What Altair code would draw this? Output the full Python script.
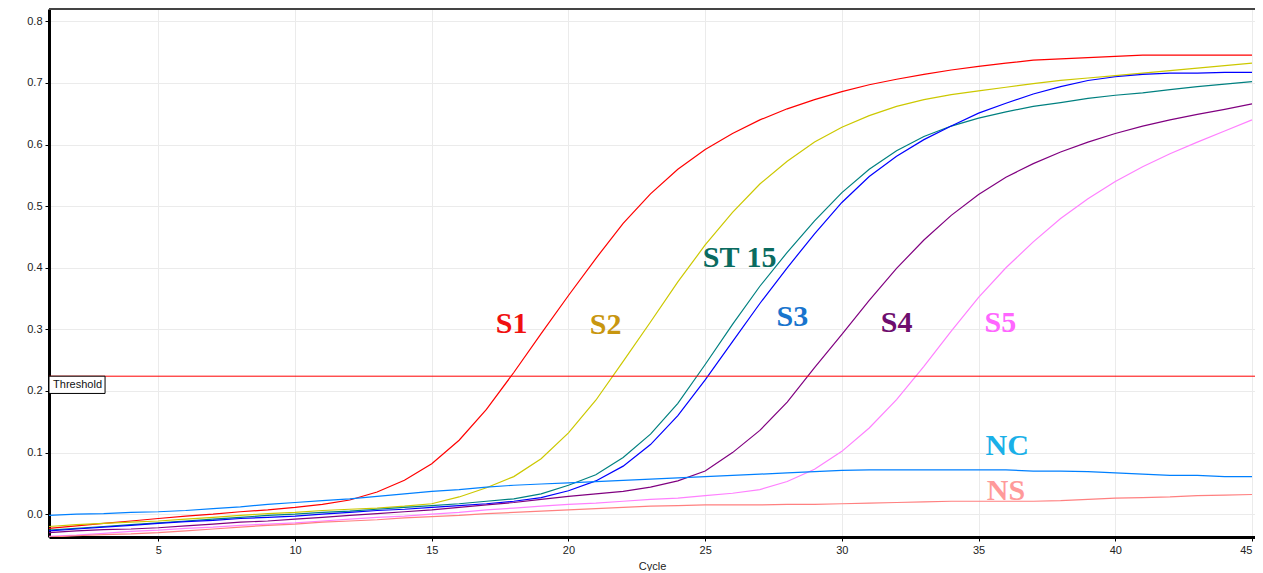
import altair as alt
import pandas as pd

cycles = list(range(1, 46))

s1 = [-0.023, -0.019, -0.015, -0.011, -0.007, -0.003, 0.000, 0.004, 0.007, 0.011,
      0.016, 0.023, 0.036, 0.055, 0.082, 0.120, 0.170, 0.230, 0.293, 0.355,
      0.415, 0.472, 0.520, 0.560, 0.592, 0.618, 0.640, 0.658, 0.673, 0.686,
      0.697, 0.706, 0.714, 0.721, 0.727, 0.732, 0.737, 0.739, 0.741, 0.743,
      0.745, 0.745, 0.745, 0.745, 0.745]
s2 = [-0.020, -0.017, -0.015, -0.013, -0.011, -0.008, -0.005, -0.002, 0.001, 0.003,
      0.006, 0.008, 0.010, 0.013, 0.017, 0.028, 0.043, 0.061, 0.090, 0.132,
      0.185, 0.248, 0.312, 0.377, 0.437, 0.490, 0.536, 0.573, 0.604, 0.628,
      0.647, 0.662, 0.673, 0.681, 0.687, 0.693, 0.699, 0.704, 0.708, 0.712,
      0.716, 0.720, 0.724, 0.728, 0.732]
st15 = [-0.026, -0.023, -0.020, -0.017, -0.014, -0.011, -0.008, -0.005, -0.002, 0.000,
        0.003, 0.005, 0.008, 0.011, 0.014, 0.017, 0.021, 0.025, 0.033, 0.047,
        0.064, 0.092, 0.130, 0.180, 0.243, 0.308, 0.370, 0.425, 0.476, 0.522,
        0.560, 0.590, 0.613, 0.630, 0.643, 0.653, 0.662, 0.668, 0.675, 0.680,
        0.684, 0.689, 0.694, 0.698, 0.702]
s3 = [-0.027, -0.024, -0.021, -0.018, -0.015, -0.012, -0.010, -0.007, -0.005, -0.003,
      0.000, 0.003, 0.006, 0.008, 0.011, 0.014, 0.017, 0.021, 0.027, 0.038,
      0.054, 0.078, 0.113, 0.160, 0.218, 0.280, 0.342, 0.400, 0.455, 0.506,
      0.548, 0.581, 0.608, 0.630, 0.651, 0.667, 0.682, 0.694, 0.704, 0.710,
      0.714, 0.716, 0.716, 0.717, 0.717]
s4 = [-0.030, -0.027, -0.025, -0.024, -0.022, -0.019, -0.016, -0.013, -0.011, -0.008,
      -0.005, -0.002, 0.001, 0.004, 0.007, 0.011, 0.015, 0.019, 0.024, 0.029,
      0.033, 0.037, 0.044, 0.054, 0.070, 0.100, 0.136, 0.182, 0.238, 0.292,
      0.347, 0.399, 0.445, 0.485, 0.519, 0.547, 0.569, 0.588, 0.604, 0.618,
      0.630, 0.640, 0.649, 0.657, 0.666]
s5 = [-0.036, -0.034, -0.031, -0.028, -0.026, -0.023, -0.021, -0.018, -0.016, -0.014,
      -0.011, -0.008, -0.005, -0.003, 0.000, 0.003, 0.007, 0.010, 0.013, 0.016,
      0.018, 0.021, 0.024, 0.026, 0.030, 0.034, 0.040, 0.053, 0.073, 0.102,
      0.140, 0.186, 0.240, 0.297, 0.352, 0.400, 0.442, 0.480, 0.512, 0.540,
      0.564, 0.585, 0.604, 0.622, 0.640]
nc = [-0.002, 0.000, 0.001, 0.003, 0.004, 0.006, 0.009, 0.012, 0.016, 0.019,
      0.022, 0.025, 0.029, 0.033, 0.037, 0.040, 0.044, 0.047, 0.049, 0.051,
      0.053, 0.055, 0.057, 0.059, 0.061, 0.063, 0.065, 0.067, 0.069, 0.071,
      0.072, 0.072, 0.072, 0.072, 0.072, 0.072, 0.070, 0.070, 0.069, 0.067,
      0.065, 0.063, 0.063, 0.061, 0.061]
ns = [-0.037, -0.035, -0.033, -0.032, -0.030, -0.027, -0.024, -0.021, -0.018, -0.016,
      -0.013, -0.011, -0.009, -0.006, -0.004, -0.002, 0.001, 0.003, 0.005, 0.007,
      0.009, 0.011, 0.013, 0.014, 0.015, 0.015, 0.015, 0.016, 0.016, 0.017,
      0.018, 0.019, 0.020, 0.021, 0.021, 0.021, 0.021, 0.022, 0.024, 0.026,
      0.027, 0.028, 0.030, 0.031, 0.032]

series_names = ["S1", "S2", "ST 15", "S3", "S4", "S5", "NC", "NS"]
series_values = [s1, s2, st15, s3, s4, s5, nc, ns]
line_colors = ["#FF0000", "#CCC800", "#008080", "#0000FF", "#800080", "#FF80FF", "#0080FF", "#FF8080"]

label_text = ["S1", "S2", "ST 15", "S3", "S4", "S5", "NC", "NS"]
label_x = [17.92, 21.36, 26.26, 28.19, 32.0, 35.8, 36.05, 36.0]
label_y = [0.294, 0.292, 0.401, 0.305, 0.295, 0.295, 0.096, 0.023]
label_colors = ["#F01010", "#C8960F", "#0A6B60", "#1874CD", "#6E0D6E", "#FF66FF", "#1AB0E8", "#FF9A9A"]

threshold = 0.224
threshold_box_x = [1.0, 3.05]
threshold_box_y = [0.224, 0.196]
threshold_text_x = 1.15
threshold_text_y = 0.2095

x_ticks = [5, 10, 15, 20, 25, 30, 35, 40, 45]
y_ticks = [0.0, 0.1, 0.2, 0.3, 0.4, 0.5, 0.6, 0.7, 0.8]

rows = []
for name, vals in zip(series_names, series_values):
    for c, v in zip(cycles, vals):
        rows.append({"series": name, "cycle": c, "value": v})
df = pd.DataFrame(rows)

labels_df = pd.DataFrame({"text": label_text, "x": label_x, "y": label_y, "color": label_colors})
thr_df = pd.DataFrame({"t": [threshold]})
box_df = pd.DataFrame({"x": [threshold_box_x[0]], "x2": [threshold_box_x[1]],
                       "y": [threshold_box_y[0]], "y2": [threshold_box_y[1]]})
thr_text_df = pd.DataFrame({"x": [threshold_text_x], "y": [threshold_text_y], "text": ["Threshold"]})

W, H = 1206, 528
xs = alt.Scale(domain=[1, 45.11], nice=False, zero=False)
ys = alt.Scale(domain=[-0.037, 0.82], nice=False, zero=False)

xaxis = alt.Axis(values=x_ticks, title="Cycle", grid=True,
                 labelAlign=alt.condition("datum.value == 45", alt.value("right"), alt.value("center")))
yaxis = alt.Axis(values=y_ticks, format=".1f", title=None, grid=True)

lines = alt.Chart(df).mark_line(strokeWidth=1.2, clip=True).encode(
    x=alt.X("cycle:Q", scale=xs, axis=xaxis),
    y=alt.Y("value:Q", scale=ys, axis=yaxis),
    color=alt.Color("series:N", scale=alt.Scale(domain=series_names, range=line_colors), legend=None),
    order=alt.Order("cycle:Q"),
)

thr_rule = alt.Chart(thr_df).mark_rule(color="#FF0000", strokeWidth=1).encode(
    y=alt.Y("t:Q", scale=ys, axis=yaxis),
)

box = alt.Chart(box_df).mark_rect(fill="white", stroke="black", strokeWidth=1).encode(
    x=alt.X("x:Q", scale=xs, axis=xaxis), x2="x2:Q",
    y=alt.Y("y:Q", scale=ys, axis=yaxis), y2="y2:Q",
)

thr_text = alt.Chart(thr_text_df).mark_text(
    align="left", baseline="middle", font="Liberation Sans", fontSize=11, color="#111111"
).encode(
    x=alt.X("x:Q", scale=xs, axis=xaxis),
    y=alt.Y("y:Q", scale=ys, axis=yaxis),
    text="text:N",
)

labels = alt.Chart(labels_df).mark_text(
    align="center", baseline="alphabetic", font="Liberation Serif", fontWeight="bold", fontSize=30
).encode(
    x=alt.X("x:Q", scale=xs, axis=xaxis),
    y=alt.Y("y:Q", scale=ys, axis=yaxis),
    text="text:N",
    color=alt.Color("color:N", scale=None),
)

top_border = alt.Chart(thr_df).mark_rule(color="#444444", strokeWidth=2).encode(
    x=alt.value(0), x2=alt.value(W), y=alt.value(0)
)

chart = alt.layer(lines, thr_rule, box, thr_text, labels, top_border).properties(
    width=W, height=H,
    autosize=alt.AutoSizeParams(type="none"),
    padding={"left": 41, "top": 1, "right": 0, "bottom": 34},
).configure_view(stroke=None).configure_axis(
    labelFont="Liberation Sans", labelFontSize=11, labelColor="#222222",
    titleFont="Liberation Sans", titleFontSize=11, titleFontWeight="normal", titleColor="#222222",
    gridColor="#EBEBEB", gridWidth=1, domainColor="#000000", domainWidth=3,
    tickColor="#000000", tickSize=4, tickWidth=1, labelPadding=3,
).configure_axisX(titleY=34, titleBaseline="bottom")

chart.save("out.html", embed_options={"renderer": "svg", "actions": False})
